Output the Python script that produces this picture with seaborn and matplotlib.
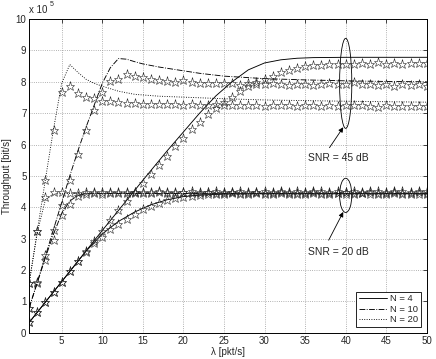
import numpy as np
import pandas as pd
import matplotlib
matplotlib.use("Agg")
import matplotlib.pyplot as plt
from matplotlib.patches import Ellipse
from matplotlib.lines import Line2D
import seaborn as sns

# throughput values in units of 1e5 bit/s
lam = list(range(1, 51))

# simulated points (stars), SNR = 45 dB
sim_n4_45 = [0.33, 0.65, 0.98, 1.30, 1.63, 1.96, 2.28, 2.60, 2.93, 3.26,
             3.58, 3.90, 4.20, 4.48, 4.76, 5.05, 5.35, 5.64, 5.94, 6.22,
             6.48, 6.72, 6.96, 7.18, 7.36, 7.52, 7.72, 7.88, 7.98, 8.10,
             8.20, 8.30, 8.38, 8.44, 8.49, 8.52, 8.55, 8.56, 8.57, 8.58,
             8.57, 8.60, 8.58, 8.62, 8.58, 8.60, 8.58, 8.59, 8.60, 8.60]
sim_n10_45 = [0.80, 1.62, 2.47, 3.29, 4.07, 4.86, 5.71, 6.46, 7.11, 7.68,
              8.02, 8.10, 8.24, 8.17, 8.14, 8.10, 8.05, 8.02, 8.00, 8.05,
              8.00, 7.97, 7.97, 7.96, 7.95, 7.97, 7.90, 7.95, 7.93, 7.92,
              7.95, 7.92, 7.90, 7.93, 7.92, 7.90, 7.93, 7.95, 7.92, 7.93,
              7.98, 7.92, 7.93, 7.90, 7.92, 7.88, 7.92, 7.90, 7.92, 7.88]
sim_n20_45 = [1.60, 3.25, 4.86, 6.45, 7.67, 7.87, 7.65, 7.50, 7.47, 7.40,
              7.38, 7.36, 7.33, 7.33, 7.30, 7.30, 7.28, 7.30, 7.28, 7.27,
              7.28, 7.25, 7.27, 7.28, 7.26, 7.26, 7.25, 7.27, 7.25, 7.24,
              7.26, 7.25, 7.26, 7.24, 7.25, 7.27, 7.24, 7.25, 7.24, 7.25,
              7.26, 7.25, 7.24, 7.20, 7.25, 7.23, 7.24, 7.22, 7.24, 7.22]

# simulated points (stars), SNR = 20 dB
sim_n4_20 = [0.33, 0.65, 0.98, 1.30, 1.63, 1.96, 2.28, 2.58, 2.85, 3.04,
             3.30, 3.46, 3.64, 3.80, 3.93, 4.04, 4.14, 4.22, 4.30, 4.33,
             4.37, 4.40, 4.43, 4.43, 4.42, 4.44, 4.43, 4.42, 4.44, 4.43,
             4.42, 4.44, 4.43, 4.42, 4.43, 4.44, 4.42, 4.43, 4.44, 4.42,
             4.43, 4.44, 4.42, 4.43, 4.42, 4.44, 4.43, 4.42, 4.43, 4.43]
sim_n10_20 = [0.80, 1.60, 2.31, 2.95, 3.75, 4.12, 4.35, 4.42, 4.45, 4.42,
              4.47, 4.45, 4.48, 4.46, 4.47, 4.45, 4.48, 4.47, 4.46, 4.48,
              4.47, 4.45, 4.48, 4.46, 4.47, 4.48, 4.46, 4.47, 4.48, 4.46,
              4.47, 4.48, 4.46, 4.47, 4.45, 4.48, 4.47, 4.46, 4.47, 4.48,
              4.46, 4.47, 4.48, 4.46, 4.47, 4.48, 4.46, 4.47, 4.48, 4.47]
sim_n20_20 = [1.60, 3.25, 4.33, 4.49, 4.49, 4.45, 4.47, 4.49, 4.48, 4.50,
              4.48, 4.49, 4.47, 4.50, 4.48, 4.49, 4.51, 4.48, 4.50, 4.49,
              4.51, 4.49, 4.50, 4.52, 4.49, 4.50, 4.51, 4.49, 4.50, 4.52,
              4.50, 4.51, 4.49, 4.52, 4.50, 4.51, 4.52, 4.50, 4.51, 4.49,
              4.52, 4.50, 4.51, 4.52, 4.50, 4.51, 4.52, 4.50, 4.51, 4.52]

# analytical curves
ana_n4_45_x = [1, 5, 10, 15, 18, 20, 22, 24, 26, 28, 30, 32, 34, 36, 40, 45, 50]
ana_n4_45 = [0.33, 1.63, 3.26, 4.86, 5.80, 6.40, 7.00, 7.55, 8.00, 8.38, 8.60,
             8.70, 8.75, 8.77, 8.78, 8.78, 8.78]
ana_n4_20_x = [1, 5, 8, 10, 12, 14, 16, 18, 20, 22, 25, 30, 50]
ana_n4_20 = [0.33, 1.63, 2.60, 3.15, 3.55, 3.85, 4.08, 4.24, 4.34, 4.39, 4.42,
             4.43, 4.43]
ana_n10_45_x = [1, 2, 3, 4, 5, 6, 7, 8, 9, 10, 11, 12, 13, 14, 15, 16, 17, 18,
                19, 20, 22, 25, 30, 35, 40, 45, 50]
ana_n10_45 = [0.80, 1.62, 2.45, 3.30, 4.15, 5.00, 5.80, 6.55, 7.25, 7.95, 8.45,
              8.74, 8.72, 8.64, 8.57, 8.52, 8.47, 8.43, 8.39, 8.35, 8.27, 8.18,
              8.10, 8.06, 8.03, 8.01, 8.00]
ana_n10_20_x = [1, 2, 3, 4, 5, 6, 7, 8, 10, 15, 50]
ana_n10_20 = [0.80, 1.60, 2.40, 3.15, 3.80, 4.20, 4.38, 4.43, 4.44, 4.44, 4.44]
ana_n20_45_x = [1, 2, 3, 4, 5, 6, 7, 8, 9, 10, 12, 14, 17, 20, 25, 30, 35, 40, 50]
ana_n20_45 = [1.60, 3.25, 4.90, 6.50, 7.95, 8.55, 8.30, 8.08, 7.95, 7.86, 7.70,
              7.60, 7.54, 7.51, 7.46, 7.42, 7.40, 7.38, 7.35]
ana_n20_20_x = [1, 2, 3, 4, 5, 50]
ana_n20_20 = [1.60, 3.20, 4.25, 4.42, 4.44, 4.44]

sns.set_style("white")
plt.rcParams['font.family'] = ['Liberation Sans', 'DejaVu Sans']

fig = plt.figure(figsize=(4.36, 3.59), dpi=100)
ax = fig.add_axes([0.067, 0.073, 0.912, 0.874])

styles = {4: '-', 10: '-.', 20: ':'}
curves = [(4, ana_n4_45_x, ana_n4_45), (4, ana_n4_20_x, ana_n4_20),
          (10, ana_n10_45_x, ana_n10_45), (10, ana_n10_20_x, ana_n10_20),
          (20, ana_n20_45_x, ana_n20_45), (20, ana_n20_20_x, ana_n20_20)]
for n, xs, ys in curves:
    sns.lineplot(x=xs, y=ys, ax=ax, color='k', lw=0.65, linestyle=styles[n],
                 estimator=None, sort=False)

for ys in [sim_n4_45, sim_n10_45, sim_n20_45, sim_n4_20, sim_n10_20, sim_n20_20]:
    sns.lineplot(x=lam, y=ys, ax=ax, color='k', linestyle='none', marker='*',
                 markersize=6.5, mfc='none', mec='#222222', mew=0.4, estimator=None)

ax.set_xlim(1, 50)
ax.set_ylim(0, 10)
ax.set_xticks(range(5, 51, 5))
ax.set_yticks(range(0, 11))
ax.grid(True, color='#999999', linestyle=':', linewidth=0.6)
ax.tick_params(direction='in', top=True, right=True, length=3, width=0.6,
               labelsize=7, pad=2)
for sp in ax.spines.values():
    sp.set_linewidth(0.7)
    sp.set_color('k')
ax.set_xlabel(u'\u03bb [pkt/s]', fontsize=7, labelpad=1)
ax.set_ylabel('Throughput [bit/s]', fontsize=7, labelpad=3)
ax.text(0.0, 1.012, 'x 10', transform=ax.transAxes, fontsize=7, ha='left', va='bottom')
ax.text(0.052, 1.035, '5', transform=ax.transAxes, fontsize=5, ha='left', va='bottom')

# annotations
ax.add_patch(Ellipse((40, 7.95), 1.5, 2.87, fill=False, ec='k', lw=0.6))
ax.add_patch(Ellipse((40, 4.38), 1.5, 1.09, fill=False, ec='k', lw=0.6))
arrow = dict(arrowstyle='-|>', color='k', lw=0.6, mutation_scale=7, shrinkA=0, shrinkB=0)
ax.annotate('', xy=(39.7, 6.55), xytext=(38.0, 5.9), arrowprops=arrow)
ax.annotate('', xy=(39.7, 3.85), xytext=(37.9, 2.95), arrowprops=arrow)
ax.text(35.3, 5.56, 'SNR = 45 dB', fontsize=7.5, va='center', ha='left')
ax.text(35.3, 2.58, 'SNR = 20 dB', fontsize=7.5, va='center', ha='left')

handles = [Line2D([], [], color='k', lw=0.65, linestyle=styles[n]) for n in [4, 10, 20]]
leg = ax.legend(handles, ['N = 4', 'N = 10', 'N = 20'], loc='lower right',
                fontsize=6.8, frameon=True, fancybox=False, edgecolor='k',
                framealpha=1, borderpad=0.3, labelspacing=0.15,
                handlelength=3.0, handletextpad=0.3, borderaxespad=0.6)
leg.get_frame().set_linewidth(0.6)

fig.savefig('out.png', dpi=100)
